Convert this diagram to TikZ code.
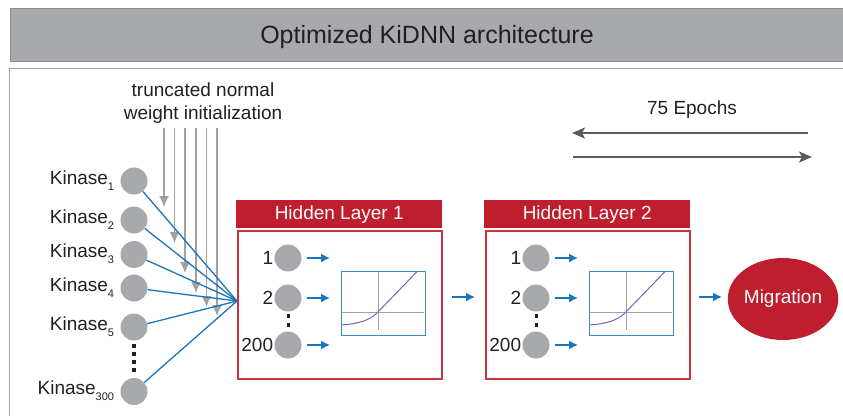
\documentclass[tikz,border=0pt]{standalone}
\usepackage{fontspec}
\setmainfont{Liberation Sans}
\usetikzlibrary{arrows.meta,shapes.geometric,calc}

\definecolor{ctext}{HTML}{231F20}
\definecolor{cband}{HTML}{A7A9AC}
\definecolor{cbandline}{HTML}{8E8F92}
\definecolor{cframe}{HTML}{9D9EA1}
\definecolor{cneuron}{HTML}{A7A9AC}
\definecolor{cred}{HTML}{BE1E2D}
\definecolor{credline}{HTML}{C9333F}
\definecolor{cblue}{HTML}{1B75BC}
\definecolor{cplot}{HTML}{3D8ACB}
\definecolor{ccurve}{HTML}{6A67C4}
\definecolor{caxis}{HTML}{A3A3A3}
\definecolor{cinit}{HTML}{A0A1A3}
\definecolor{cepoch}{HTML}{5B5B5D}

\newcommand{\fs}[1]{\fontsize{#1}{#1}\selectfont}
\newcommand{\sbs}[1]{\raisebox{-6pt}{\fs{11}#1}}

\tikzset{
  txt/.style={font=\fs{19}, text=ctext, inner sep=0pt},
  neuron/.style={circle, fill=cneuron, minimum size=27pt, inner sep=0pt},
  bline/.style={draw=cblue, line width=1.3pt},
  barrow/.style={draw=cblue, line width=1.6pt, -{Latex[length=9pt,width=9pt]}},
  initarrow/.style={draw=cinit, line width=1.5pt, -{Latex[length=11pt,width=10pt]}},
  epocharrow/.style={draw=cepoch, line width=1.4pt, -{Stealth[length=13pt,width=11pt,inset=3pt]}},
  header/.style={fill=cred, text=white, font=\fs{19}, inner sep=0pt,
                 minimum width=206pt, minimum height=28pt, anchor=north west},
  layerbox/.style={draw=credline, line width=1.8pt, inner sep=0pt,
                   minimum width=204pt, minimum height=148pt, anchor=north west},
  plotbox/.style={draw=cplot, line width=1.2pt, inner sep=0pt,
                  minimum width=84pt, minimum height=64pt, anchor=north west},
  axis/.style={draw=caxis, line width=1pt},
  curve/.style={draw=ccurve, line width=1pt},
  dotmark/.style={fill=ctext, minimum size=3.4pt, inner sep=0pt},
}

\begin{document}
\begin{tikzpicture}[x=1pt,y=-1pt]
\useasboundingbox (0,0) rectangle (843,415);

% title band
\fill[cband, draw=cbandline, line width=0.8pt] (10,8.5) rectangle (846,61);
\node[font=\fs{25}, text=ctext] (title) at (427,37) {Optimized KiDNN architecture};

% frame around the network
\draw[cframe, line width=1.8pt] (9.5,418) -- (9.5,68.5) -- (846,68.5);

% weight initialization label and arrows
\node[txt, align=center, font=\fs{19}, text=ctext] (initlbl) at (203,103)
  {truncated normal\\[4pt]weight initialization};
\foreach \x/\y [count=\i] in {164/207, 174.5/243, 185/273, 196/293, 206.5/307, 217/316} {
  \coordinate (wt\i) at (\x,128);
  \coordinate (wb\i) at (\x,\y);
  \draw[initarrow] (wt\i) -- (wb\i);
}

% input layer
\coordinate (conv) at (237,301);
\foreach \y/\s [count=\i] in {181/1, 220/2, 254.5/3, 288/4, 327/5, 391.5/300} {
  \node[neuron] (k\i) at (134,\y) {};
  \node[txt, anchor=base east] (kl\i) at ($(k\i.west)+(-6,3)$) {Kinase\sbs{\s}};
  \draw[bline] (k\i) -- (conv);
}
\foreach \y [count=\i] in {346,354,362,370} {
  \node[dotmark] (kd\i) at (134,\y) {};
}

% hidden layers
\foreach \L/\sx in {1/0, 2/248} {
  \begin{scope}[xshift=\sx]
    \node[header] (hdr\L) at (236,200) {Hidden Layer \L};
    \node[layerbox] (body\L) at (237,230) {};
    \foreach \y/\n [count=\j] in {258/1, 298/2, 345/200} {
      \node[neuron] (h\L n\j) at (288,\y) {};
      \node[txt, anchor=base east] (h\L l\j) at ($(h\L n\j.west)+(-1,6.5)$) {\n};
      \coordinate (h\L a\j) at (307,\y);
      \coordinate (h\L b\j) at (330,\y);
      \draw[barrow] (h\L a\j) -- (h\L b\j);
    }
    \node[dotmark] (h\L d1) at (288.5,316) {};
    \node[dotmark] (h\L d2) at (288.5,325) {};
    % activation function plot
    \node[plotbox] (plot\L) at (341,271) {};
    \draw[axis] (341.6,312) -- (424.4,312);
    \draw[axis] (378,271.6) -- (378,330);
    \draw[curve] plot[domain=-36.4:0, samples=40, smooth]
        ({378+\x},{312-14*(exp(\x/14)-1)}) -- (417,271.6);
  \end{scope}
}

% arrows between layers and to the output
\coordinate (m1) at (452,297);
\coordinate (m2) at (475,297);
\draw[barrow] (m1) -- (m2);
\node[ellipse, fill=cred, text=white, font=\fs{19}, minimum width=101pt,
      minimum height=82pt, inner sep=0pt] (mig) at (783,299) {Migration};
\coordinate (o1) at (699,297);
\coordinate (o2) at (722,297);
\draw[barrow] (o1) -- (o2);

% training epochs
\node[txt] (epochs) at (692,110) {75 Epochs};
\coordinate (ea) at (808,133);
\coordinate (eb) at (572,133);
\coordinate (ec) at (573,157);
\coordinate (ed) at (812,157);
\draw[epocharrow] (ea) -- (eb);
\draw[epocharrow] (ec) -- (ed);
\end{tikzpicture}
\end{document}
